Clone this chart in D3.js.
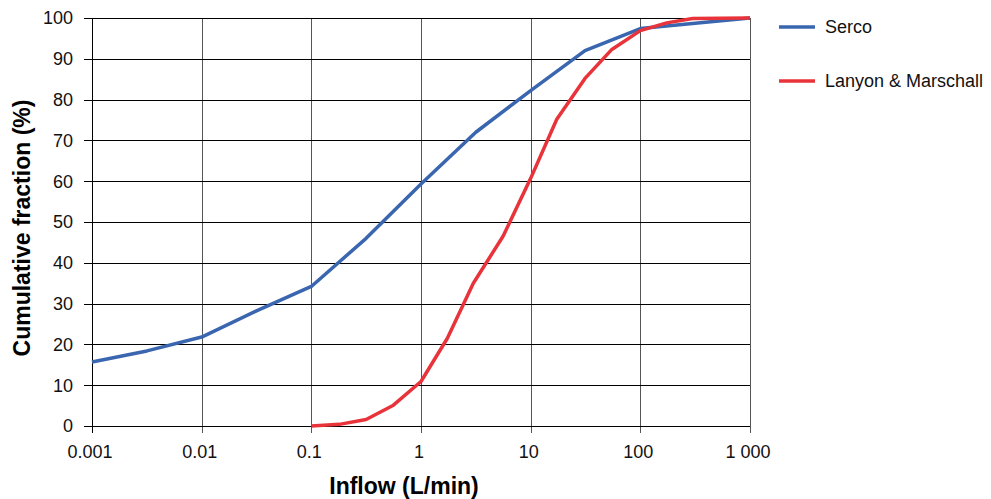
<!DOCTYPE html>
<html><head><meta charset="utf-8">
<script src="https://cdn.jsdelivr.net/npm/d3@7"></script>
<style>body{margin:0;background:#fff}svg{display:block}text{font-family:Arial,"Liberation Sans",sans-serif}</style>
</head><body><svg id="c" width="991" height="499"></svg>
<script>
const xTicks = [0.001, 0.01, 0.1, 1, 10, 100, 1000];
const xTickLabels = ["0.001", "0.01", "0.1", "1", "10", "100", "1 000"];
const yTicks = [0,10,20,30,40,50,60,70,80,90,100];
const sercoX = [0.001, 0.00317, 0.01, 0.0316, 0.1, 0.316, 1, 3.16, 10, 31.3, 100, 1000];
const sercoY = [15.7, 18.4, 21.8, 28.2, 34.2, 46.0, 59.3, 72.0, 82.2, 92.0, 97.4, 100];
const lanyonX = [0.1, 0.18, 0.316, 0.56, 1, 1.74, 3.0, 5.6, 10, 17.3, 31.3, 55, 100, 174, 300, 1000];
const lanyonY = [0, 0.4, 1.6, 5.1, 10.9, 21.5, 35.0, 46.5, 60.7, 75.2, 85.2, 92.3, 96.9, 98.8, 99.9, 100];
const seriesNames = ["Serco", "Lanyon & Marschall"];
const colors = ["#3a66b0", "#e8333a"];

const svg = d3.select("#c");
const L = 92, R = 750, T = 18, B = 426;
const x = d3.scaleLog().domain([0.001, 1000]).range([L, R]);
const y = d3.scaleLinear().domain([0, 100]).range([B, T]);

// grid
svg.append("g").selectAll("line").data(xTicks).join("line")
  .attr("x1", d => Math.round(x(d)) + 0.5).attr("x2", d => Math.round(x(d)) + 0.5)
  .attr("y1", T).attr("y2", B + 7)
  .attr("stroke", (d,i) => (i===0)?"#000":"#555").attr("stroke-width", 1);
svg.append("g").selectAll("line").data(yTicks).join("line")
  .attr("x1", L - 8).attr("x2", R)
  .attr("y1", d => Math.round(y(d)) + 0.5).attr("y2", d => Math.round(y(d)) + 0.5)
  .attr("stroke", "#000").attr("stroke-width", 1);

// y tick labels
svg.append("g").selectAll("text").data(yTicks).join("text")
  .attr("x", L - 19).attr("y", d => y(d)).attr("dy", "0.35em")
  .attr("text-anchor", "end").attr("font-size", 18).attr("fill", "#111")
  .text(d => d);
// x tick labels
svg.append("g").selectAll("text").data(xTicks).join("text")
  .attr("x", d => x(d) - 2).attr("y", 458)
  .attr("text-anchor", "middle").attr("font-size", 18).attr("fill", "#111")
  .text((d,i) => xTickLabels[i]);

// axis titles
svg.append("text").attr("x", 404).attr("y", 494).attr("text-anchor", "middle")
  .attr("font-size", 23).attr("font-weight", "bold").text("Inflow (L/min)");
svg.append("text").attr("transform", `translate(30,${228}) rotate(-90)`)
  .attr("text-anchor", "middle").attr("font-size", 23).attr("font-weight", "bold")
  .text("Cumulative fraction (%)");

// lines
const line = d3.line().x(d => x(d[0])).y(d => y(d[1]));
const data = [d3.zip(sercoX, sercoY), d3.zip(lanyonX, lanyonY)];
data.forEach((pts, i) => {
  svg.append("path").datum(pts).attr("d", line).attr("fill", "none")
    .attr("stroke", colors[i]).attr("stroke-width", 3.5).attr("stroke-linejoin", "round");
});

// legend
const ly = [27, 81];
seriesNames.forEach((n, i) => {
  svg.append("line").attr("x1", 779).attr("x2", 815).attr("y1", ly[i]).attr("y2", ly[i])
    .attr("stroke", colors[i]).attr("stroke-width", 3.5);
  svg.append("text").attr("x", 825).attr("y", ly[i]).attr("dy", "0.35em")
    .attr("font-size", 18).attr("fill", "#111").text(n);
});
</script></body></html>
